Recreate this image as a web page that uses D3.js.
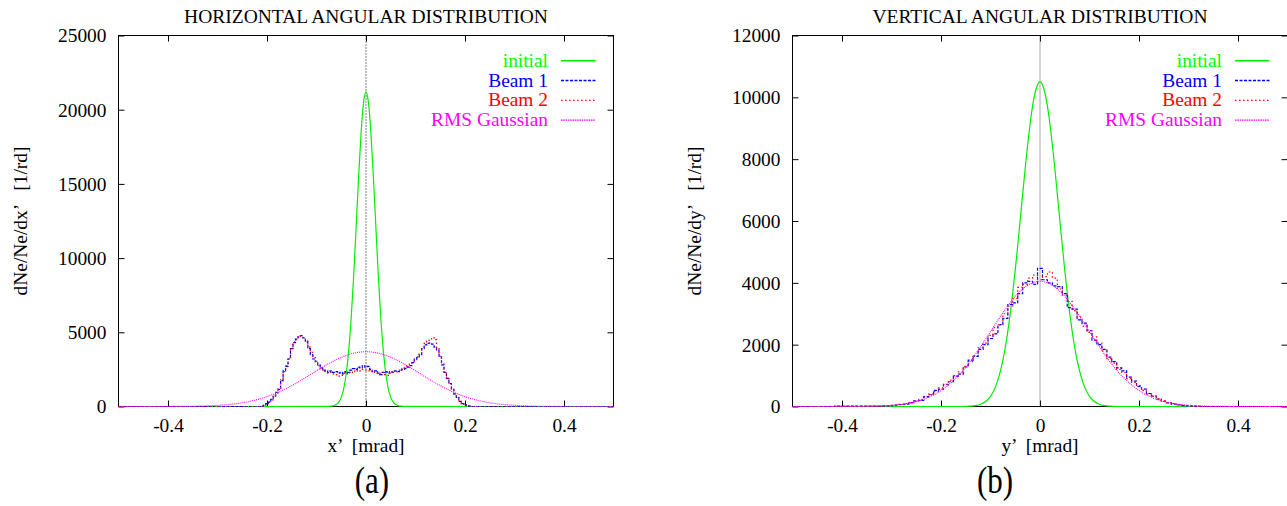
<!DOCTYPE html>
<html><head><meta charset="utf-8">
<script src="https://cdn.jsdelivr.net/npm/d3@7"></script>
<style>
html,body{margin:0;padding:0;background:#fff;}
svg text{font-family:"Liberation Serif","Times New Roman",serif;white-space:pre;}
</style></head><body>
<svg id="chart" width="1287" height="506" font-family="Liberation Serif, Times New Roman, serif"></svg>
<script>
// ---------------- data ----------------
const xTicks = [-0.4, -0.2, 0, 0.2, 0.4];
const xTickLabels = ["-0.4", "-0.2", "0", "0.2", "0.4"];
const hYTicks = [0, 5000, 10000, 15000, 20000, 25000];
const vYTicks = [0, 2000, 4000, 6000, 8000, 10000, 12000];
const legendNames = ["initial", "Beam 1", "Beam 2", "RMS Gaussian"];

// horizontal panel: histogram bin centres (mrad)
const hBins = [-0.5,-0.215,-0.21,-0.205,-0.2,-0.195,-0.19,-0.185,-0.18,-0.175,-0.17,-0.165,-0.16,-0.155,-0.15,-0.145,-0.14,-0.135,-0.13,-0.125,-0.12,-0.115,-0.11,-0.105,-0.1,-0.095,-0.09,-0.085,-0.08,-0.075,-0.07,-0.065,-0.06,-0.055,-0.05,-0.045,-0.04,-0.035,-0.03,-0.025,-0.02,-0.015,-0.01,-0.005,0,0.005,0.01,0.015,0.02,0.025,0.03,0.035,0.04,0.045,0.05,0.055,0.06,0.065,0.07,0.075,0.08,0.085,0.09,0.095,0.1,0.105,0.11,0.115,0.12,0.125,0.13,0.135,0.14,0.145,0.15,0.155,0.16,0.165,0.17,0.175,0.18,0.185,0.19,0.195,0.2,0.205,0.21,0.215,0.5];
const hBeam1 = [0,0,30,80,200,300,480,700,950,1150,1750,2400,2700,3200,3900,4300,4550,4700,4780,4620,4350,3900,3500,3200,3050,2800,2600,2450,2380,2300,2400,2300,2350,2250,2300,2200,2350,2300,2450,2550,2500,2650,2600,2750,2650,2700,2500,2350,2400,2250,2150,2300,2350,2250,2350,2300,2400,2350,2450,2500,2550,2650,2750,2950,3200,3300,3500,3900,4150,4250,4280,4200,4000,3800,3350,2800,2300,1900,1550,1150,850,620,350,200,120,60,30,0,0];
const hBeam2 = [0,0,20,90,180,320,450,720,920,1200,1800,2350,2750,3300,3850,4350,4500,4750,4700,4650,4400,4000,3650,3300,3000,2750,2500,2400,2300,2250,2300,2200,2150,2050,2100,2250,2200,2300,2250,2400,2350,2450,2400,2500,2450,2400,2350,2400,2300,2350,2250,2300,2150,2100,2250,2300,2350,2400,2450,2550,2600,2700,2850,3000,3150,3350,3600,3900,4250,4400,4550,4650,4500,3950,3400,2850,2250,1950,1500,1200,820,600,380,220,140,70,20,0,0];
const hInitX = [-0.5,-0.08,-0.075,-0.07,-0.065,-0.06,-0.055,-0.05,-0.045,-0.04,-0.035,-0.03,-0.025,-0.02,-0.015,-0.01,-0.005,0,0.005,0.01,0.015,0.02,0.025,0.03,0.035,0.04,0.045,0.05,0.055,0.06,0.065,0.07,0.075,0.08,0.5];
const hInit = [0,2,7,21,54,130,294,617,1210,2205,3750,5935,8760,12040,15420,18400,20460,21200,20460,18400,15420,12040,8760,5935,3750,2205,1210,617,294,130,54,21,7,2,0];
const gaussX = [-0.5,-0.45,-0.4,-0.375,-0.35,-0.325,-0.3,-0.275,-0.25,-0.225,-0.2,-0.175,-0.15,-0.125,-0.1,-0.075,-0.05,-0.025,0,0.025,0.05,0.075,0.1,0.125,0.15,0.175,0.2,0.225,0.25,0.275,0.3,0.325,0.35,0.375,0.4,0.45,0.5];
const hGauss = [0,1,4,9,19,40,78,144,253,421,664,993,1406,1888,2403,2899,3315,3593,3690,3593,3315,2899,2403,1888,1406,993,664,421,253,144,78,40,19,9,4,1,0];

// vertical panel
const vBins = [-0.5,-0.33,-0.32,-0.31,-0.3,-0.29,-0.28,-0.27,-0.26,-0.25,-0.24,-0.23,-0.22,-0.21,-0.2,-0.19,-0.18,-0.17,-0.16,-0.15,-0.14,-0.13,-0.12,-0.11,-0.1,-0.09,-0.08,-0.07,-0.06,-0.05,-0.04,-0.03,-0.02,-0.01,0,0.01,0.02,0.03,0.04,0.05,0.06,0.07,0.08,0.09,0.1,0.11,0.12,0.13,0.14,0.15,0.16,0.17,0.18,0.19,0.2,0.21,0.22,0.23,0.24,0.25,0.26,0.27,0.28,0.29,0.3,0.31,0.32,0.33,0.5];
const vBeam1 = [0,10,15,20,30,45,60,80,120,180,200,320,380,520,560,720,800,980,1050,1280,1500,1620,1850,2000,2200,2350,2650,2850,3300,3350,3650,4000,4050,3950,4470,4100,4000,3900,3880,3650,3200,3150,2800,2700,2450,2150,2000,1850,1600,1450,1250,1150,950,820,650,560,420,340,240,170,120,80,50,30,20,10,5,0,0];
const vBeam2 = [0,5,10,20,35,40,70,90,130,170,230,300,400,480,600,700,850,1000,1120,1300,1450,1650,1900,2050,2300,2550,2650,3000,3250,3500,3850,3950,4150,4250,4100,4200,4350,4150,3800,3600,3400,3100,2900,2600,2400,2250,2050,1800,1550,1400,1200,1100,900,780,680,520,400,330,250,190,130,90,60,40,25,15,5,0,0];
const vInitX = [-0.5,-0.16,-0.15,-0.14,-0.13,-0.12,-0.11,-0.1,-0.09,-0.08,-0.075,-0.07,-0.065,-0.06,-0.055,-0.05,-0.045,-0.04,-0.035,-0.03,-0.025,-0.02,-0.015,-0.01,-0.005,0,0.005,0.01,0.015,0.02,0.025,0.03,0.035,0.04,0.045,0.05,0.055,0.06,0.065,0.07,0.075,0.08,0.09,0.1,0.11,0.12,0.13,0.14,0.15,0.16,0.5];
const vInit = [0,0,4,12,30,72,159,329,635,1145,1497,1925,2432,3020,3685,4420,5208,6035,6870,7690,8457,9140,9713,10140,10410,10500,10410,10140,9713,9140,8457,7690,6870,6035,5208,4420,3685,3020,2432,1925,1497,1145,635,329,159,72,30,12,4,0,0];
const vGauss = [0,0,1,3,7,17,39,82,162,298,515,836,1270,1810,2419,3031,3560,3922,4050,3922,3560,3031,2419,1810,1270,836,515,298,162,82,39,17,7,3,1,0,0];

// ---------------- drawing ----------------
const svg = d3.select("#chart");
svg.append("rect").attr("width",1287).attr("height",506).attr("fill","#fff");
const TOP = 35.5, BOT = 406.5;
const zip = (a,b) => a.map((v,i)=>[v,b[i]]);

const styles = [
  {color:"#00ee00", dash:null, curve:d3.curveMonotoneX, w:1.2, legDash:null},
  {color:"#0000ff", dash:"3,1.5", curve:d3.curveStep, w:1.2, legDash:"3,1.5"},
  {color:"#ff0000", dash:"1.5,2.5", curve:d3.curveStep, w:1.2, legDash:"1.5,2.5"},
  {color:"#ff00ff", dash:"1,1", curve:d3.curveMonotoneX, w:1.1, legDash:"1.6,0.7"}
];
const textColors = ["#00ff00","#0000ff","#ff0000","#ff00ff"];

function panel(cfg){
  const x = d3.scaleLinear().domain([-0.5,0.5]).range([cfg.x0,cfg.x1]);
  const y = d3.scaleLinear().domain([0,cfg.ymax]).range([BOT,TOP]);
  const g = svg.append("g");
  const font = 19.4;

  g.append("rect").attr("x",cfg.x0).attr("y",TOP).attr("width",cfg.x1-cfg.x0).attr("height",BOT-TOP)
    .attr("fill","none").attr("stroke","#000").attr("stroke-width",1);

  // axes
  const bx = g.append("g").attr("transform",`translate(0,${BOT})`)
    .call(d3.axisBottom(x).tickValues(xTicks).tickSizeInner(-6).tickSizeOuter(0).tickPadding(0)
      .tickFormat((d,i)=>xTickLabels[i]));
  bx.selectAll("text").attr("dy",null).attr("y",25.8).attr("font-size",font).attr("fill","#000");
  g.append("g").attr("transform",`translate(0,${TOP})`)
    .call(d3.axisTop(x).tickValues(xTicks).tickSizeInner(-6).tickSizeOuter(0).tickFormat(""));
  const ly = g.append("g").attr("transform",`translate(${cfg.x0},0)`)
    .call(d3.axisLeft(y).tickValues(cfg.yTicks).tickSizeInner(-6).tickSizeOuter(0).tickPadding(12).tickFormat(d3.format("d")));
  ly.selectAll("text").attr("dy",null).attr("y",6.4).attr("font-size",font).attr("fill","#000");
  g.append("g").attr("transform",`translate(${cfg.x1},0)`)
    .call(d3.axisRight(y).tickValues(cfg.yTicks).tickSizeInner(-6).tickSizeOuter(0).tickFormat(""));
  g.selectAll(".domain").remove();
  g.selectAll(".tick line").attr("stroke","#000");

  // zero axis
  g.append("line").attr("x1",x(0)).attr("x2",x(0)).attr("y1",TOP).attr("y2",BOT)
    .attr("stroke",cfg.zeroColor).attr("stroke-width",1).attr("stroke-dasharray",cfg.zeroDash);

  // title & labels
  g.append("text").attr("x",(cfg.x0+cfg.x1)/2).attr("y",23).attr("text-anchor","middle")
    .attr("font-size",19.5).text(cfg.title);
  g.append("text").attr("x",(cfg.x0+cfg.x1)/2).attr("y",451.5).attr("text-anchor","middle")
    .attr("font-size",font).text(cfg.xlabel);
  g.append("text").attr("transform",`translate(${cfg.x0-91.5},${(TOP+BOT)/2}) rotate(-90)`)
    .attr("text-anchor","middle").attr("font-size",font).text(cfg.ylabel);
  g.append("text").attr("transform",`translate(${cfg.tagX},493) scale(1,1.22)`)
    .attr("text-anchor","middle").attr("font-size",31).text(cfg.tag);

  // series
  const clipId = "clip"+cfg.tag.replace(/\W/g,"");
  svg.append("clipPath").attr("id",clipId).append("rect")
    .attr("x",cfg.x0).attr("y",TOP-1).attr("width",cfg.x1-cfg.x0).attr("height",BOT-TOP+2);
  const sg = g.append("g").attr("clip-path",`url(#${clipId})`);
  cfg.series.forEach((s,i)=>{
    const st = styles[i];
    sg.append("path").datum(s)
      .attr("d", d3.line().x(d=>x(d[0])).y(d=>y(d[1])).curve(st.curve))
      .attr("fill","none").attr("stroke",st.color).attr("stroke-width",st.w)
      .attr("stroke-dasharray",st.dash);
  });

  // legend
  legendNames.forEach((n,i)=>{
    const by = 66.7 + 19.8*i;
    g.append("text").attr("x",cfg.x1-65.5).attr("y",by).attr("text-anchor","end")
      .attr("font-size",font).attr("fill",textColors[i]).text(n);
    const st = styles[i];
    g.append("line").attr("x1",cfg.x1-52.5).attr("x2",cfg.x1-18).attr("y1",by-6).attr("y2",by-6)
      .attr("stroke",st.color).attr("stroke-width",i===0?1.6:1.3).attr("stroke-dasharray",st.legDash);
  });
}

panel({x0:118.5, x1:613.5, ymax:25000, yTicks:hYTicks,
  title:"HORIZONTAL ANGULAR DISTRIBUTION", xlabel:"x\u2019  [mrad]", ylabel:"dNe/Ne/dx\u2019   [1/rd]",
  tag:"(a)", tagX:372, zeroColor:"#000", zeroDash:"1,2",
  series:[zip(hInitX,hInit), zip(hBins,hBeam1), zip(hBins,hBeam2), zip(gaussX,hGauss)]});
panel({x0:792.5, x1:1287.5, ymax:12000, yTicks:vYTicks,
  title:"VERTICAL ANGULAR DISTRIBUTION", xlabel:"y\u2019  [mrad]", ylabel:"dNe/Ne/dy\u2019   [1/rd]",
  tag:"(b)", tagX:995, zeroColor:"#555", zeroDash:"1,1",
  series:[zip(vInitX,vInit), zip(vBins,vBeam1), zip(vBins,vBeam2), zip(gaussX,vGauss)]});
</script></body></html>
